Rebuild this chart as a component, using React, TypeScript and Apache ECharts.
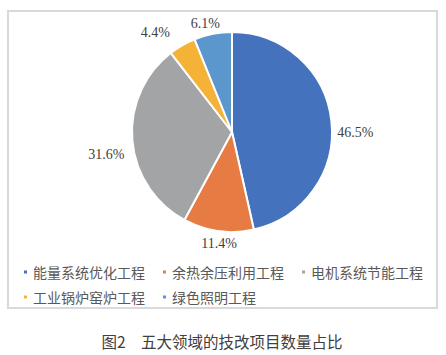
import React, { useEffect, useRef } from "react";
import * as echarts from "echarts";

const categories = ["能量系统优化工程", "余热余压利用工程", "电机系统节能工程", "工业锅炉窑炉工程", "绿色照明工程"];
const shares = [46.5, 11.4, 31.6, 4.4, 6.1];
const colors = ["#4472BC", "#E67C43", "#A3A4A6", "#F4B236", "#5B96CC"];
const caption = "图2　五大领域的技改项目数量占比";

// layout tweaks for the value labels (Excel-like placement)
const labelNudge: [number, number][] = [[1, 13], [4, 1], [-3, 13], [-17, -2], [-4, 1]];

const CX = 232;
const CY = 132;
const R = 100;
const GAP = 5;

export default function App() {
  const ref = useRef<HTMLDivElement>(null);
  useEffect(() => {
    document.body.style.margin = "0";
    const chart = echarts.init(ref.current!, undefined, { renderer: "svg" });
    const total = shares.reduce((a, b) => a + b, 0);
    const legendText = { fontSize: 14, color: "#595959", fontFamily: '"Noto Sans CJK SC", sans-serif' };
    chart.setOption({
      animation: false,
      color: colors,
      graphic: [
        {
          type: "rect",
          shape: { x: 8, y: 11, width: 429, height: 297 },
          style: { fill: "none", stroke: "#d9d9d9", lineWidth: 2 },
          silent: true,
        },
        {
          type: "text",
          x: 222,
          y: 341,
          style: {
            text: caption,
            fontSize: 15.5,
            fill: "#404040",
            fontFamily: '"Noto Sans CJK SC", sans-serif',
            align: "center",
            verticalAlign: "middle",
          },
        },
      ],
      legend: [
        {
          data: categories.slice(0, 3),
          left: 17,
          top: 260,
          icon: "rect",
          itemWidth: 5,
          itemHeight: 5,
          itemGap: 16,
          textStyle: legendText,
        },
        {
          data: categories.slice(3),
          left: 17,
          top: 285,
          icon: "rect",
          itemWidth: 5,
          itemHeight: 5,
          itemGap: 16,
          textStyle: legendText,
        },
      ],
      series: [
        {
          type: "pie",
          center: [CX, CY],
          radius: R,
          startAngle: 90,
          clockwise: true,
          itemStyle: { borderColor: "#fff", borderWidth: 2 },
          label: {
            show: true,
            position: "outside",
            formatter: (p: any) => `${shares[p.dataIndex].toFixed(1)}%`,
            fontSize: 14,
            color: "#404040",
            fontFamily: '"Times New Roman", "Liberation Serif", serif',
          },
          labelLine: { show: false },
          labelLayout: (params: any) => {
            const i = params.dataIndex;
            let before = 0;
            for (let k = 0; k < i; k++) before += shares[k];
            const mid = ((before + shares[i] / 2) / total) * Math.PI * 2;
            const dx = Math.sin(mid);
            const dy = -Math.cos(mid);
            const w = params.labelRect.width;
            const h = params.labelRect.height;
            const ax = CX + (R + GAP) * dx;
            const ay = CY + (R + GAP) * dy;
            return {
              x: ax + (dx * w) / 2 + labelNudge[i][0],
              y: ay + (dy * h) / 2 + labelNudge[i][1],
              align: "center",
              verticalAlign: "middle",
            };
          },
          emphasis: { disabled: true },
          data: categories.map((name, i) => ({ name, value: shares[i] })),
        },
      ],
    });
    return () => chart.dispose();
  }, []);
  return <div ref={ref} style={{ width: 446, height: 355 }} />;
}
